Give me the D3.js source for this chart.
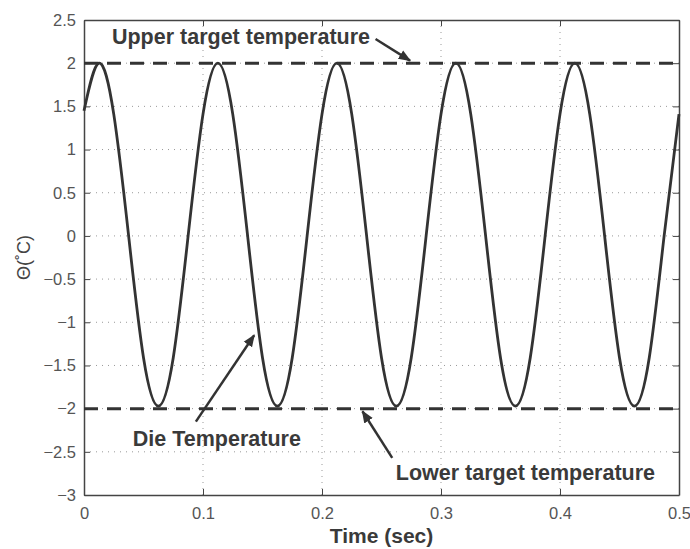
<!DOCTYPE html>
<html>
<head>
<meta charset="utf-8">
<script src="https://cdn.jsdelivr.net/npm/d3@7"></script>
<style>
  body { margin: 0; background: #fff; }
  svg { display: block; font-family: "Liberation Sans", Arial, sans-serif; }
  .tick text { font-size: 16.5px; fill: #555; }
  .note { font-size: 21.5px; font-weight: bold; fill: #3a3a3a; }
</style>
</head>
<body>
<svg id="chart" width="690" height="549"></svg>
<script>
// time samples (sec) and die temperature (deg C)
const times = [0, 0.0125, 0.025, 0.0375, 0.05, 0.0625, 0.075, 0.0875,
  0.1, 0.1125, 0.125, 0.1375, 0.15, 0.1625, 0.175, 0.1875,
  0.2, 0.2125, 0.225, 0.2375, 0.25, 0.2625, 0.275, 0.2875,
  0.3, 0.3125, 0.325, 0.3375, 0.35, 0.3625, 0.375, 0.3875,
  0.4, 0.4125, 0.425, 0.4375, 0.45, 0.4625, 0.475, 0.4875, 0.5];
const dieTemp = [1.45, 2, 1.41, 0, -1.41, -1.97, -1.41, 0,
  1.41, 2, 1.41, 0, -1.41, -1.97, -1.41, 0,
  1.41, 2, 1.41, 0, -1.41, -1.97, -1.41, 0,
  1.41, 2, 1.41, 0, -1.41, -1.97, -1.41, 0,
  1.41, 2, 1.41, 0, -1.41, -1.97, -1.41, 0, 1.41];
const upperTarget = 2;
const lowerTarget = -2;
const xTicks = [0, 0.1, 0.2, 0.3, 0.4, 0.5];
const yTicks = [-3, -2.5, -2, -1.5, -1, -0.5, 0, 0.5, 1, 1.5, 2, 2.5];

const svg = d3.select("#chart");
const margin = { top: 20, right: 11, bottom: 54, left: 84 };
const width = +svg.attr("width") - margin.left - margin.right;
const height = +svg.attr("height") - margin.top - margin.bottom;

const g = svg.append("g")
  .attr("transform", `translate(${margin.left},${margin.top})`);

const x = d3.scaleLinear().domain([0, 0.5]).range([0, width]);
const y = d3.scaleLinear().domain([-3, 2.5]).range([height, 0]);

// dotted grid
g.append("g").selectAll("line")
  .data(xTicks.slice(1, -1))
  .join("line")
  .attr("x1", d => x(d)).attr("x2", d => x(d))
  .attr("y1", 0).attr("y2", height)
  .attr("stroke", "#999").attr("stroke-width", 1)
  .attr("stroke-dasharray", "1,5");

g.append("g").selectAll("line")
  .data(yTicks.slice(1, -1))
  .join("line")
  .attr("x1", 0).attr("x2", width)
  .attr("y1", d => y(d)).attr("y2", d => y(d))
  .attr("stroke", "#999").attr("stroke-width", 1)
  .attr("stroke-dasharray", "1,5");

// axes with inward ticks
const fmt = d3.format("");
g.append("g")
  .attr("transform", `translate(0,${height})`)
  .call(d3.axisBottom(x).tickValues(xTicks).tickFormat(fmt).tickSizeInner(-6).tickSizeOuter(0).tickPadding(12));
g.append("g")
  .call(d3.axisLeft(y).tickValues(yTicks).tickFormat(d => fmt(d).replace("-", "\u2212")).tickSizeInner(-6).tickSizeOuter(0).tickPadding(8));
g.append("g")
  .call(d3.axisTop(x).tickValues(xTicks).tickFormat("").tickSizeInner(-6).tickSizeOuter(0));
g.append("g")
  .attr("transform", `translate(${width},0)`)
  .call(d3.axisRight(y).tickValues(yTicks).tickFormat("").tickSizeInner(-6).tickSizeOuter(0));

g.selectAll(".domain").attr("stroke", "#444").attr("stroke-width", 1.5);
g.selectAll(".tick line").attr("stroke", "#444");

// target lines
[upperTarget, lowerTarget].forEach(v => {
  g.append("line")
    .attr("x1", 0).attr("x2", width)
    .attr("y1", y(v)).attr("y2", y(v))
    .attr("stroke", "#333").attr("stroke-width", 3)
    .attr("stroke-dasharray", "14,9");
});

// die temperature curve
const pts = times.map((t, i) => [t, dieTemp[i]]);
g.append("path")
  .datum(pts)
  .attr("fill", "none")
  .attr("stroke", "#333")
  .attr("stroke-width", 2.8)
  .attr("d", d3.line().x(d => x(d[0])).y(d => y(d[1])).curve(d3.curveNatural));

// annotations
svg.append("defs").append("marker")
  .attr("id", "head")
  .attr("viewBox", "0 0 10 10")
  .attr("refX", 9).attr("refY", 5)
  .attr("markerWidth", 5).attr("markerHeight", 5)
  .attr("orient", "auto")
  .append("path").attr("d", "M0,1 L10,5 L0,9 Z").attr("fill", "#333");

const notes = [
  { text: "Upper target temperature", tx: 0.0235, ty: 2.22, from: [0.245, 2.28], to: [0.274, 2.03] },
  { text: "Die Temperature", tx: 0.041, ty: -2.43, from: [0.094, -2.15], to: [0.143, -1.15] },
  { text: "Lower target temperature", tx: 0.262, ty: -2.83, from: [0.259, -2.57], to: [0.234, -2.03] }
];

notes.forEach(n => {
  g.append("text").attr("class", "note")
    .attr("x", x(n.tx)).attr("y", y(n.ty))
    .text(n.text);
  g.append("line")
    .attr("x1", x(n.from[0])).attr("y1", y(n.from[1]))
    .attr("x2", x(n.to[0])).attr("y2", y(n.to[1]))
    .attr("stroke", "#333").attr("stroke-width", 2.5)
    .attr("marker-end", "url(#head)");
});

// axis titles
svg.append("text")
  .attr("x", margin.left + width / 2)
  .attr("y", 543)
  .attr("text-anchor", "middle")
  .attr("font-size", 21).attr("font-weight", "bold").attr("fill", "#3a3a3a")
  .text("Time (sec)");

svg.append("text")
  .attr("transform", `translate(30,${margin.top + height / 2}) rotate(-90)`)
  .attr("text-anchor", "middle")
  .attr("font-size", 18).attr("fill", "#444")
  .text("\u0398(\u02DAC)");
</script>
</body>
</html>
